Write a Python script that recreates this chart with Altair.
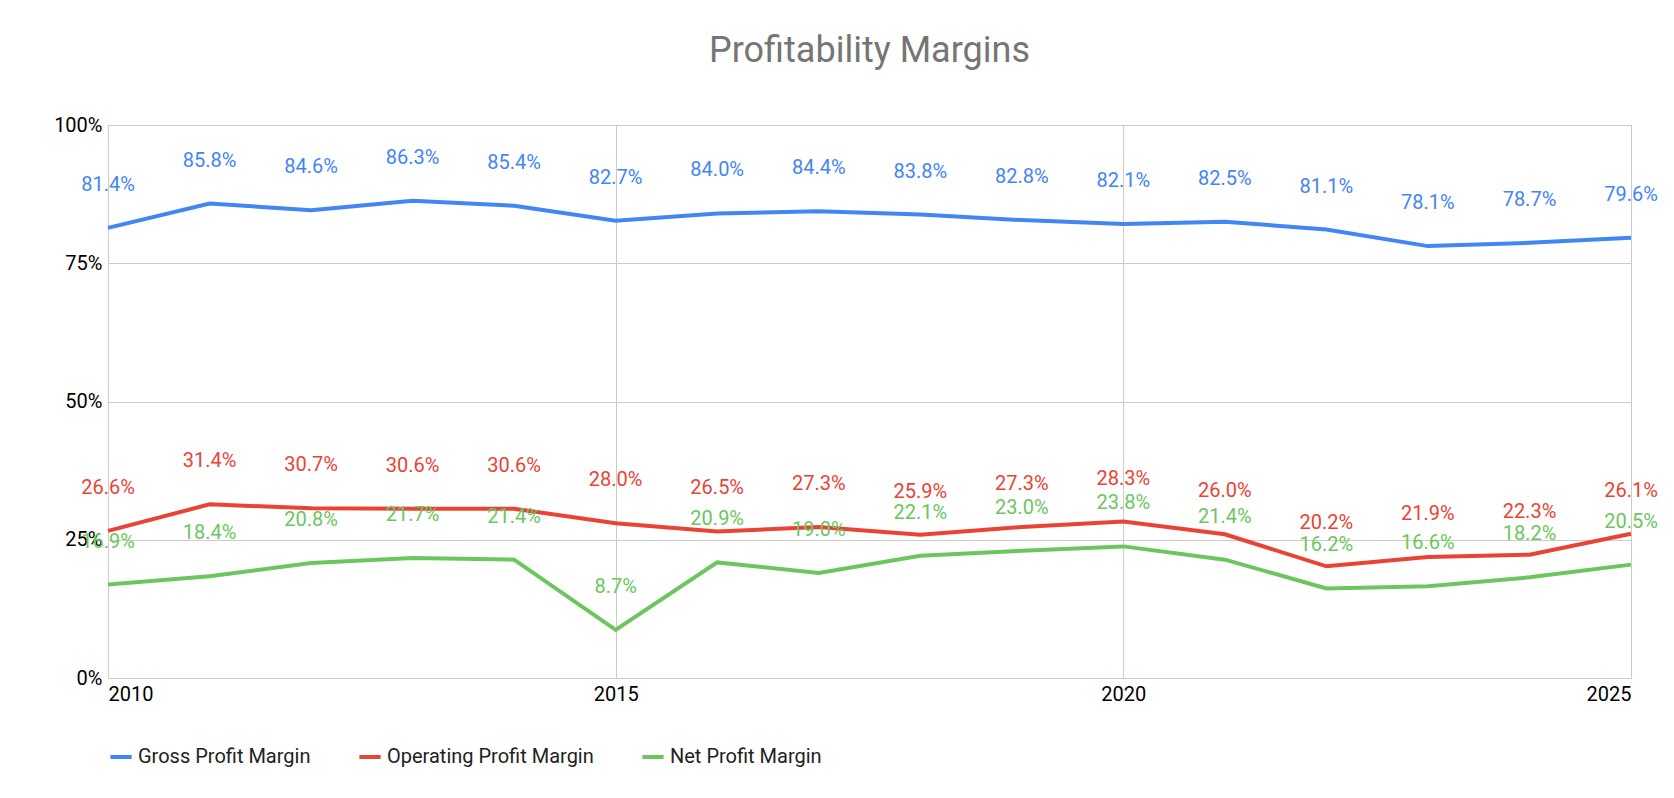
import altair as alt
import pandas as pd

years = list(range(2010, 2026))
gross = [81.4, 85.8, 84.6, 86.3, 85.4, 82.7, 84.0, 84.4, 83.8, 82.8, 82.1, 82.5, 81.1, 78.1, 78.7, 79.6]
operating = [26.6, 31.4, 30.7, 30.6, 30.6, 28.0, 26.5, 27.3, 25.9, 27.3, 28.3, 26.0, 20.2, 21.9, 22.3, 26.1]
net = [16.9, 18.4, 20.8, 21.7, 21.4, 8.7, 20.9, 19.0, 22.1, 23.0, 23.8, 21.4, 16.2, 16.6, 18.2, 20.5]

series = ["Gross Profit Margin", "Operating Profit Margin", "Net Profit Margin"]
colors = ["#4285f4", "#ea4335", "#6cc65e"]

rows = []
for name, vals in zip(series, [gross, operating, net]):
    for y, v in zip(years, vals):
        rows.append({"year": y, "series": name, "value": v / 100, "label": f"{v:.1f}%"})
df = pd.DataFrame(rows)

color = alt.Color("series:N", sort=series,
                  scale=alt.Scale(domain=series, range=colors),
                  legend=alt.Legend(orient="bottom", title=None, symbolType="stroke",
                                    symbolStrokeWidth=4, symbolSize=450, labelFontSize=20,
                                    labelColor="#222", columnPadding=40, offset=40,
                                    labelLimit=400))

base = alt.Chart(df).encode(
    x=alt.X("year:Q", scale=alt.Scale(domain=[2010, 2025], nice=False),
            axis=alt.Axis(values=[2010, 2015, 2020, 2025], format="d", title=None,
                          labelFontSize=20, labelColor="#000", grid=True, gridColor="#cccccc",
                          tickSize=0, labelPadding=6, domain=False)),
    y=alt.Y("value:Q", scale=alt.Scale(domain=[0, 1]),
            axis=alt.Axis(values=[0, 0.25, 0.5, 0.75, 1], format=".0%", title=None,
                          labelFontSize=20, labelColor="#000", gridColor="#cccccc",
                          tickSize=0, labelPadding=6, domain=False)),
    color=color,
)

lines = base.mark_line(strokeWidth=4)
labels = base.mark_text(dy=-43, fontSize=20).encode(text="label:N")

chart = (
    alt.layer(lines, labels)
    .properties(
        width=1523, height=553,
        padding={"left": 45, "top": 25, "right": 5, "bottom": 5},
        title=alt.TitleParams("Profitability Margins", fontSize=36, font="Roboto",
                              fontWeight="normal", color="#757575", offset=45),
    )
    .configure(font="Roboto")
    .configure_view(stroke="#cccccc")
)

chart.save("out.html", embed_options={"renderer": "svg", "actions": False})
